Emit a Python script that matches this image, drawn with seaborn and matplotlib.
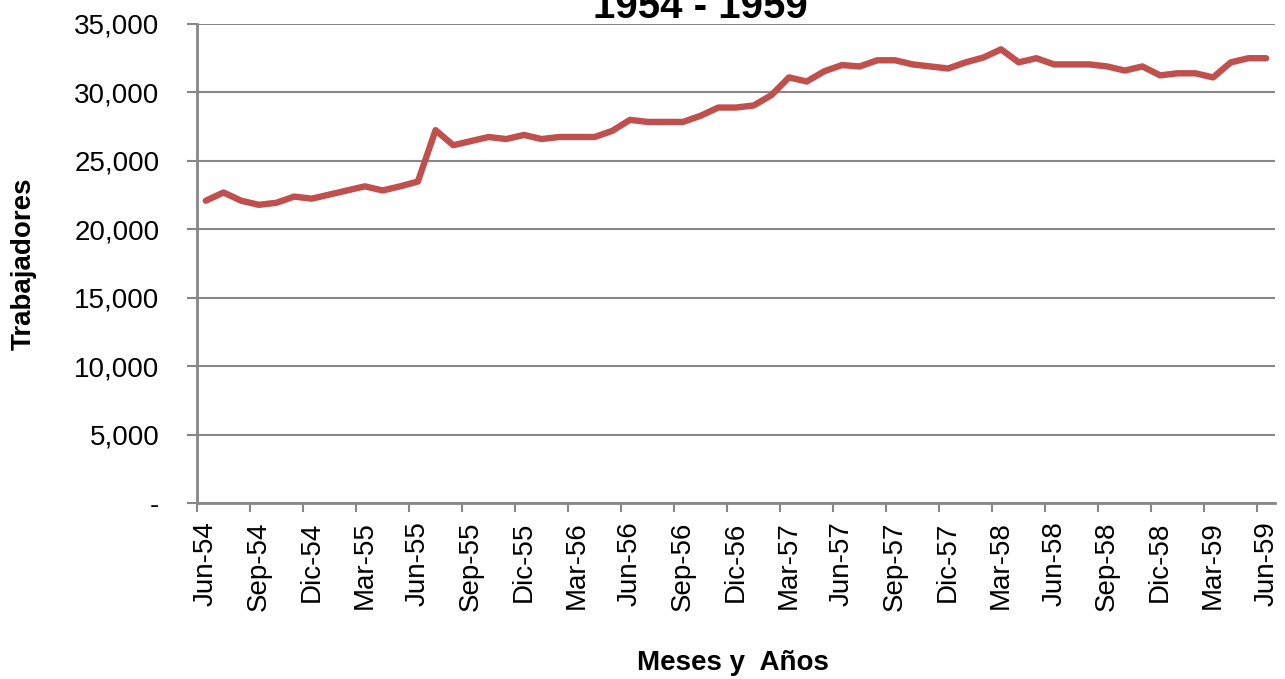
import numpy as np
import pandas as pd
import matplotlib
matplotlib.use("Agg")
import matplotlib.pyplot as plt
from matplotlib.ticker import FuncFormatter, FixedLocator
import seaborn as sns

# monthly workers, Jun-54 .. Jun-59
trabajadores = [
    22100, 22700, 22100, 21800, 21950, 22400, 22250, 22550, 22850, 23150,
    22850, 23150, 23500, 27250, 26150, 26450, 26750, 26600, 26900, 26600,
    26750, 26750, 26750, 27200, 28000, 27850, 27850, 27850, 28300, 28900,
    28900, 29050, 29800, 31100, 30800, 31550, 32000, 31900, 32350, 32350,
    32050, 31900, 31750, 32200, 32550, 33150, 32200, 32500, 32050, 32050,
    32050, 31900, 31600, 31900, 31250, 31400, 31400, 31100, 32200, 32500,
    32500,
]

etiquetas = [
    "Jun-54", "Sep-54", "Dic-54", "Mar-55", "Jun-55", "Sep-55", "Dic-55",
    "Mar-56", "Jun-56", "Sep-56", "Dic-56", "Mar-57", "Jun-57", "Sep-57",
    "Dic-57", "Mar-58", "Jun-58", "Sep-58", "Dic-58", "Mar-59", "Jun-59",
]

titulo = "1954 - 1959"


def plotTrabajadores():
    df = pd.DataFrame({"mes": np.arange(len(trabajadores)), "trabajadores": trabajadores})

    sns.set_style("white")
    plt.rcParams["font.family"] = ["Liberation Sans", "DejaVu Sans"]
    plt.rcParams["text.color"] = "black"
    plt.rcParams["xtick.labelcolor"] = "black"
    plt.rcParams["ytick.labelcolor"] = "black"
    plt.rcParams["axes.labelcolor"] = "black"

    fig = plt.figure(figsize=(12.85, 6.79), dpi=100)
    ax = fig.add_axes([0.1533, 0.2585, 0.8389, 0.7062])

    sns.lineplot(data=df, x="mes", y="trabajadores", ax=ax, color="#C0504D", linewidth=4.6)

    gray = "#878787"
    ax.set_xlim(-0.5, len(trabajadores) - 0.5)
    ax.set_ylim(0, 35000)
    ax.set_yticks(np.arange(0, 35001, 5000))
    ax.yaxis.set_major_formatter(FuncFormatter(lambda v, p: "-" if v == 0 else f"{int(v):,}"))
    ax.grid(axis="y", color=gray, linewidth=1.5)
    ax.set_axisbelow(True)

    # labels on categories, tick marks on boundaries
    ax.set_xticks(np.arange(0, len(trabajadores), 3))
    ax.set_xticklabels(etiquetas, rotation=90)
    ax.xaxis.set_minor_locator(FixedLocator(np.arange(-0.5, len(trabajadores), 3)))
    ax.tick_params(axis="x", which="major", length=0, pad=13, labelsize=20)
    ax.tick_params(axis="x", which="minor", length=6.5, width=1.5, color=gray, direction="out", bottom=True)
    ax.tick_params(axis="y", length=7, width=1.5, color=gray, direction="out", left=True, pad=20, labelsize=20)

    for side in ["top", "right"]:
        ax.spines[side].set_visible(False)
    ax.spines["left"].set_color(gray)
    ax.spines["left"].set_linewidth(2)
    ax.spines["bottom"].set_color(gray)
    ax.spines["bottom"].set_linewidth(2)

    ax.set_xlabel("Meses y  Años", fontsize=20, fontweight="bold")
    ax.set_ylabel("Trabajadores", fontsize=20, fontweight="bold")
    ax.xaxis.set_label_coords(0.497, -0.305)
    ax.yaxis.set_label_coords(-0.149, 0.5)

    fig.text(0.545, 0.9735, titulo, ha="center", va="baseline", fontsize=29, fontweight="bold")

    fig.savefig("out.png", dpi=100)
    plt.close()


if __name__ == "__main__":
    plotTrabajadores()
